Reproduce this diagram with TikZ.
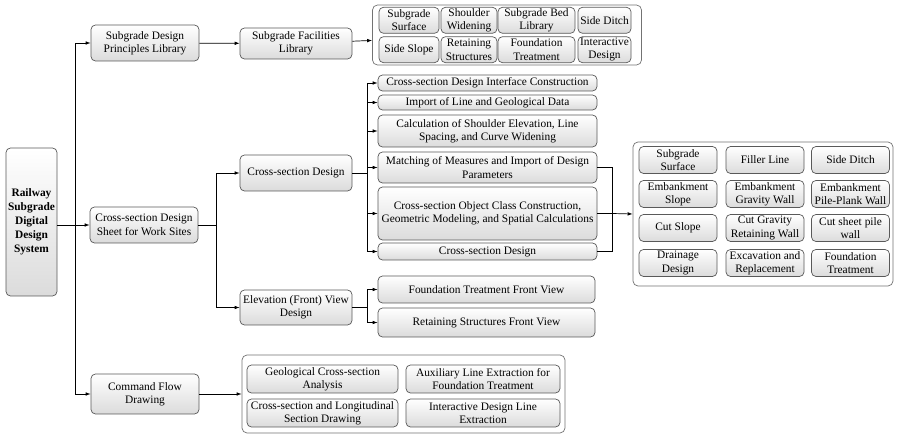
\documentclass[tikz,border=0pt]{standalone}
\usepackage{fontspec}
\setmainfont{Liberation Serif}
\usetikzlibrary{arrows.meta}
\begin{document}
\begin{tikzpicture}[x=1pt,y=-1pt,line width=0.7pt,>={Latex[length=5pt,width=3.6pt]},
bx/.style 2 args={draw=black!65,rounded corners=4.5pt,top color=white,bottom color=black!14,align=center,inner sep=0.5pt,minimum width=#1pt,minimum height=#2pt,font=\fontsize{11.4}{13.4}\selectfont},
grp/.style 2 args={draw=black!55,rounded corners=5pt,fill=white,minimum width=#1pt,minimum height=#2pt}]
\useasboundingbox(0,0)rectangle(898,435);
\node[bx={51}{148},font=\fontsize{11.4}{14}\selectfont\bfseries](root)at(31.5,222){Railway\\Subgrade\\Digital\\Design\\System};
\node[bx={108}{36}](lib)at(145,43){Subgrade Design\\Principles Library};
\node[bx={108}{36}](sheet)at(144,225){Cross-section Design\\Sheet for Work Sites};
\node[bx={108}{40}](cmd)at(145,394){Command Flow\\Drawing};
\node[bx={112}{31}](fac)at(296,43.5){Subgrade Facilities\\Library};
\node[bx={112}{36}](csd)at(296,173){Cross-section Design};
\node[bx={112}{35}](elev)at(296,307.5){Elevation (Front) View\\Design};
\node[grp={269}{60}](g1)at(507,35){};
\foreach \x/\y/\w/\t/\n in {409/20.3/60/{Subgrade\\Surface}/a1,469/20.3/56/{Shoulder\\Widening}/a2,536.5/20.3/77/{Subgrade Bed\\Library}/a3,604.5/20.3/53/{Side Ditch}/a4,
409/49.7/60/{Side Slope}/a5,469/49.7/56/{Retaining\\Structures}/a6,536.5/49.7/77/{Foundation\\Treatment}/a7,604.5/49.7/53/{Interactive\\Design}/a8}
\node[bx={\w}{26}](\n)at(\x,\y){\t};
\node[bx={219}{16}](i1)at(487.5,83){Cross-section Design Interface Construction};
\node[bx={219}{15}](i2)at(487.5,102.5){Import of Line and Geological Data};
\node[bx={219}{32}](i3)at(487.5,131){Calculation of Shoulder Elevation, Line\\Spacing, and Curve Widening};
\node[bx={219}{31}](i4)at(487.5,167.5){Matching of Measures and Import of Design\\Parameters};
\node[bx={219}{53}](i5)at(487.5,213.5){Cross-section Object Class Construction,\\Geometric Modeling, and Spatial Calculations};
\node[bx={219}{17}](i6)at(487.5,251.5){Cross-section Design};
\node[bx={217}{27}](e1)at(486.5,289.5){Foundation Treatment Front View};
\node[bx={217}{29}](e2)at(486.5,322.5){Retaining Structures Front View};
\node[grp={260}{144}](g2)at(763,214){};
\foreach \x/\y/\t/\n in {678/160/{Subgrade\\Surface}/b1,765/160/{Filler Line}/b2,850.5/160/{Side Ditch}/b3,
678/194/{Embankment\\Slope}/b4,765/194/{Embankment\\Gravity Wall}/b5,850.5/194/{Embankment\\Pile-Plank Wall}/b6,
678/228/{Cut Slope}/b7,765/228/{Cut Gravity\\Retaining Wall}/b8,850.5/228/{Cut sheet pile\\wall}/b9,
678/263/{Drainage\\Design}/b10,765/263/{Excavation and\\Replacement}/b11,850.5/263/{Foundation\\Treatment}/b12}
\node[bx={78}{27}](\n)at(\x,\y){\t};
\node[grp={323}{78}](g3)at(403.5,394){};
\node[bx={151}{28}](c1)at(322.5,379){Geological Cross-section\\Analysis};
\node[bx={154}{28}](c2)at(483,379){Auxiliary Line Extraction for\\Foundation Treatment};
\node[bx={151}{28}](c3)at(322.5,413){Cross-section and Longitudinal\\Section Drawing};
\node[bx={154}{28}](c4)at(483,413){Interactive Design Line\\Extraction};
\coordinate(t1)at(75,225);
\coordinate(t2)at(216,225);
\coordinate(t3)at(367,173);
\coordinate(t4)at(367,307.5);
\coordinate(t5)at(612,213.5);
\draw[->](root.east|-sheet.west)--(sheet.west);
\draw[->](t1)|-(lib.west);
\draw[->](t1)|-(cmd.west);
\draw[->](lib)--(fac);
\draw[->](fac)--(g1);
\draw(sheet.east)--(t2);
\draw[->](t2)|-(csd.west);
\draw[->](t2)|-(elev.west);
\draw(csd.east)--(t3);
\foreach \n in {i1,i2,i3,i4,i5,i6}\draw[->](t3)|-(\n.west);
\draw(elev.east)--(t4);
\draw[->](t4)|-(e1.west);
\draw[->](t4)|-(e2.west);
\draw(i4.east)-|(t5);
\draw(i6.east)-|(t5);
\draw(i5.east)--(t5);
\draw[->](t5)--(g2.west);
\draw[->](cmd)--(g3);
\end{tikzpicture}
\end{document}
